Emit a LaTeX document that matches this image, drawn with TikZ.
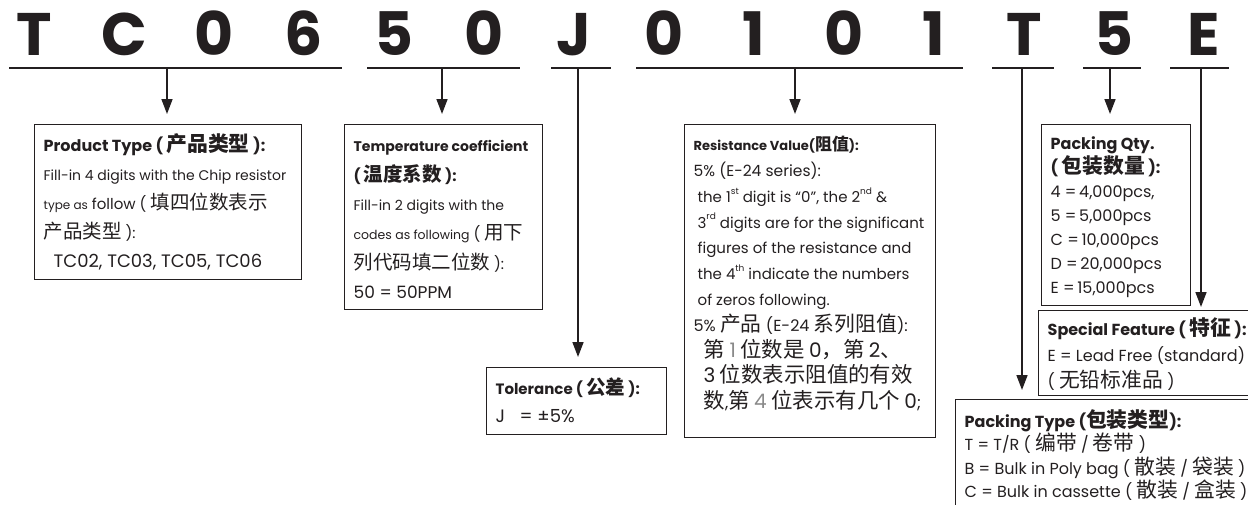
\documentclass[tikz,border=0pt]{standalone}
\usepackage{fontspec}
\usepackage{graphicx}
\setmainfont{Poppins}
\newfontfamily\cjk{Noto Sans CJK SC}[Scale=1.3]
\usetikzlibrary{arrows.meta}
\definecolor{ink}{HTML}{231F20}
\definecolor{gry}{HTML}{8A8A8A}
\newcommand\zh[1]{{\cjk #1}}
\newcommand\fs[1]{\fontsize{#1}{#1}\selectfont}
\newcommand\dg[1]{{\fs{20}#1}}
\newcommand\sups[1]{\raisebox{0.55em}{\fontsize{9}{9}\selectfont #1}}
\newcommand\txl[1]{\mbox{#1}\par}
% width, height, first baseline, baselineskip, size, content
\newcommand\boxtxt[6]{\begin{minipage}[t][#2pt][t]{#1pt}\raggedright\leftskip=9pt\parindent=0pt\parskip=0pt\fs{#5}\lineskiplimit=-100pt\lineskip=0pt\baselineskip=#4pt
\rule{0pt}{#3pt}#6\end{minipage}}
\tikzset{
  ttl/.style={font=\fs{60}\bfseries, text=ink, inner sep=0pt, anchor=base},
  uline/.style={draw=ink, line width=1.7pt},
  arr/.style={draw=ink, line width=1.6pt, -{Triangle[length=15pt,width=11pt]}, shorten >=10pt},
  ibox/.style={draw=ink, line width=1.3pt, inner sep=0pt, anchor=north west, text=ink}
}
\begin{document}
\begin{tikzpicture}[x=1pt,y=-1pt]
\useasboundingbox (0,0) rectangle (1248,504);
\path[clip] (0,0) rectangle (1248,504);
% title letters
\foreach \ch [count=\i from 0] in {T,C,0,6,5,0,J,0,1,0,1,T,5,E}
  \node[ttl] (c\i) at (34+90*\i,55) {\ch};
% underlines
\coordinate (u1a) at (9,68);    \coordinate (u1b) at (342,68);
\coordinate (u2a) at (367,68);  \coordinate (u2b) at (520,68);
\coordinate (u3a) at (551,68);  \coordinate (u3b) at (611,68);
\coordinate (u4a) at (636,68);  \coordinate (u4b) at (963,68);
\coordinate (u5a) at (992,68);  \coordinate (u5b) at (1054,68);
\coordinate (u6a) at (1083,68); \coordinate (u6b) at (1141,68);
\coordinate (u7a) at (1170,68); \coordinate (u7b) at (1229,68);
\foreach \k in {1,...,7} \draw[uline] (u\k a) -- (u\k b);
% arrow starts
\coordinate (s1) at (167,68);
\coordinate (s2) at (442,68);
\coordinate (s3) at (578,68);
\coordinate (s4) at (795,68);
\coordinate (s5) at (1022,68);
\coordinate (s6) at (1110,68);
\coordinate (s7) at (1201,68);
% boxes
\node[ibox] (prod) at (34,124) {\boxtxt{267}{155}{27}{29}{15}{%
\txl{\bfseries\fs{16}Product Type ( \zh{产品类型} ):}
\txl{\fs{14}Fill-in 4 digits with the Chip resistor}
\txl{{\fs{12}type as} follow ( \zh{填四位数表示}}
\txl{\zh{产品类型} ):}
\txl{\hspace*{10pt}{\fs{18}TC02, TC03, TC05, TC06}}}};
\node[ibox] (temp) at (344,124) {\boxtxt{198}{185}{27}{29.4}{15}{%
\txl{\bfseries\fs{14}Temperature coefficient}
\txl{\bfseries ( \zh{温度系数} ):}
\txl{\fs{14}Fill-in 2 digits with the}
\txl{{\fs{12.5}codes as following} ( \zh{用下}}
\txl{\zh{列代码填二位数} ):}
\txl{\fs{17}50 = 50PPM}}};
\node[ibox] (tol) at (486,367) {\boxtxt{180}{67}{27}{28}{15}{%
\txl{\bfseries Tolerance ( \zh{公差} ):}
\txl{\fs{18}J \ \ = ±5\%}}};
\node[ibox] (res) at (684,124) {\boxtxt{251}{313}{26}{25.8}{15}{%
\txl{\bfseries\fs{13}Resistance Value(\zh{阻值}):}
\txl{\fs{15.5}5\% (E-24 series):}
\txl{\hspace*{4pt}the 1\sups{st} digit is “0”, the 2\sups{nd} \&}
\txl{\hspace*{4pt}3\sups{rd} digits are for the significant}
\txl{\hspace*{4pt}figures of the resistance and}
\txl{\hspace*{4pt}the 4\sups{th} indicate the numbers}
\txl{\hspace*{4pt}of zeros following.}
\txl{\fs{16}5\% \zh{产品} (E-24 \zh{系列阻值}):}
\txl{\fs{16.5}\hspace*{10pt}\zh{第} {\color{gry}\dg{1}} \zh{位数是} \dg{0}\zh{，第} \dg{2}\zh{、}}
\txl{\fs{16.5}\hspace*{10pt}\dg{3} \zh{位数表示阻值的有效}}
\txl{\fs{16.5}\hspace*{10pt}\zh{数},\zh{第} {\color{gry}\dg{4}} \zh{位表示有几个} \dg{0};}}};
\node[ibox] (qty) at (1041,124) {\boxtxt{149}{181}{25}{24}{16}{%
\txl{\bfseries Packing Qty.}
\txl{\bfseries ( \zh{包装数量} ):}
\txl{4 =\,4,000pcs,}
\txl{5 =\,5,000pcs}
\txl{C =\,10,000pcs}
\txl{D =\,20,000pcs}
\txl{E =\,15,000pcs}}};
\node[ibox] (spec) at (1038,310) {\boxtxt{230}{85}{25}{26}{16}{%
\txl{\bfseries Special Feature ( \zh{特征} ):}
\txl{E = Lead Free (standard)}
\txl{( \zh{无铅标准品} )}}};
\node[ibox] (ptype) at (955,399) {\boxtxt{320}{130}{28}{23.3}{16}{%
\txl{\bfseries Packing Type (\zh{包装类型}):}
\txl{T = T/R ( \zh{编带} / \zh{卷带} )}
\txl{B = Bulk in Poly bag ( \zh{散装} / \zh{袋装} )}
\txl{C = Bulk in cassette ( \zh{散装} / \zh{盒装} )}}};
% connectors
\draw[arr] (s1) -- (s1 |- prod.north);
\draw[arr] (s2) -- (s2 |- temp.north);
\draw[arr] (s3) -- (s3 |- tol.north);
\draw[arr] (s4) -- (s4 |- res.north);
\draw[arr, shorten >=9pt] (s5) -- (s5 |- ptype.north);
\draw[arr] (s6) -- (s6 |- qty.north);
\draw[arr, shorten >=3pt] (s7) -- (s7 |- spec.north);
\end{tikzpicture}
\end{document}
